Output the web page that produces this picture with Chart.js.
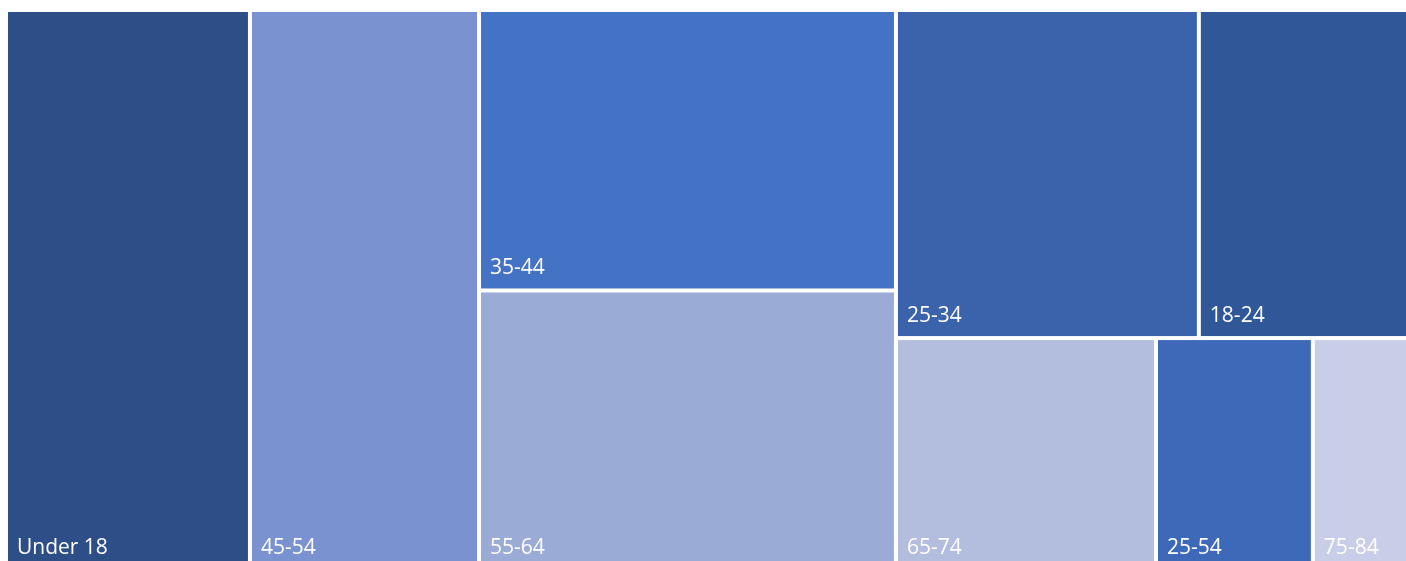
<!DOCTYPE html>
<html>
<head>
<meta charset="utf-8">
<title>Treemap</title>
<script src="https://cdn.jsdelivr.net/npm/chart.js@4/dist/chart.umd.min.js"></script>
<style>
  html, body { margin: 0; padding: 0; background: #fff; overflow: hidden; }
  #wrap { position: absolute; left: 0; top: 0; width: 1412px; height: 572px; }
</style>
</head>
<body>
<div id="wrap"><canvas id="grafico" width="1412" height="572"></canvas></div>
<script>
// Data (share of total, per 1000)
const categorias = ["Under 18", "45-54", "35-44", "55-64", "25-34", "18-24", "65-74", "25-54", "75-84"];
const valores = [173.5, 162.9, 148.5, 148.0, 126.2, 88.8, 76.6, 46.2, 29.2];
const cores = ["#2E4E88", "#7A92CF", "#4472C4", "#9AABD6", "#3A63AB", "#305797", "#B3BDDD", "#3E69B8", "#C8CEE8"];

// columns -> cells, or columns -> rows -> cells
const grupos = [[0], [1], [2, 3], [[4, 5], [6, 7, 8]]];

const soma = (idx) => idx.reduce((s, i) => s + (Array.isArray(i) ? soma(i) : valores[i]), 0);

// builds rectangles in 0..1 units
function montarLayout() {
  const total = soma(grupos);
  const rects = [];
  let x = 0;
  grupos.forEach(col => {
    const w = soma(col) / total;
    let y = 0;
    col.forEach(item => {
      if (Array.isArray(item)) {
        const h = soma(item) / soma(col);
        let xx = x;
        item.forEach(i => {
          const ww = w * valores[i] / soma(item);
          rects.push({ i, x0: xx, x1: xx + ww, y0: y, y1: y + h });
          xx += ww;
        });
        y += h;
      } else {
        const h = valores[item] / soma(col);
        rects.push({ i: item, x0: x, x1: x + w, y0: y, y1: y + h });
        y += h;
      }
    });
    x += w;
  });
  return rects;
}

const treemapPlugin = {
  id: "treemap",
  afterDatasetsDraw(chart) {
    const ctx = chart.ctx;
    const sx = chart.scales.x;
    const sy = chart.scales.y;
    const gap = 2;
    ctx.save();
    montarLayout().forEach(r => {
      const l = sx.getPixelForValue(r.x0) + gap;
      const rt = sx.getPixelForValue(r.x1) - gap;
      const t = sy.getPixelForValue(r.y0) + gap;
      const b = sy.getPixelForValue(r.y1) - gap;
      ctx.fillStyle = cores[r.i];
      ctx.fillRect(l, t, rt - l, b - t);
      ctx.fillStyle = "#ffffff";
      ctx.font = "21px 'Open Sans'";
      ctx.textAlign = "left";
      ctx.textBaseline = "alphabetic";
      ctx.fillText(categorias[r.i], l + 9, b - 14);
    });
    ctx.restore();
  }
};

new Chart(document.getElementById("grafico"), {
  type: "scatter",
  data: { datasets: [{ data: [], pointRadius: 0 }] },
  options: {
    responsive: false,
    devicePixelRatio: 1,
    animation: false,
    layout: { padding: { left: 6, top: 10, right: 0, bottom: 2 } },
    plugins: { legend: { display: false }, tooltip: { enabled: false } },
    scales: {
      x: { type: "linear", min: 0, max: 1, display: false },
      y: { type: "linear", min: 0, max: 1, reverse: true, display: false }
    }
  },
  plugins: [treemapPlugin]
});
</script>
</body>
</html>
